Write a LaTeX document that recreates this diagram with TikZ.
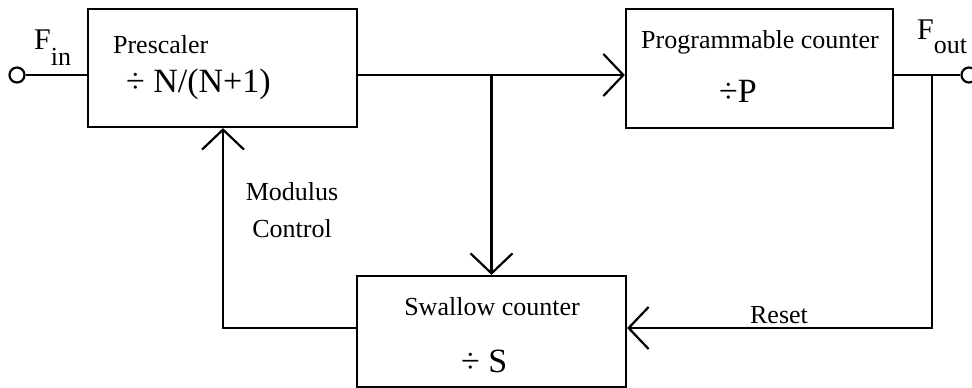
\documentclass[tikz,border=0pt]{standalone}
\usepackage{fontspec}
\setmainfont{Liberation Serif}
\usetikzlibrary{arrows.meta}

\tikzset{
  blk/.style={draw,rectangle,inner sep=0pt},
  term/.style={draw,circle,minimum size=15pt,inner sep=0pt},
  lbl/.style={inner sep=0pt,font=\fontsize{26}{37}\selectfont},
}

\begin{document}
\begin{tikzpicture}[x=1pt,y=-1pt,line width=2.2pt,
    >={Straight Barb[length=20pt,width=42pt]}]
  \useasboundingbox (0,0) rectangle (972,388);
  % blocks
  \node[blk,minimum width=269pt,minimum height=118pt] (pre)  at (222.5,68) {};
  \node[blk,minimum width=267pt,minimum height=119pt] (prog) at (759.5,68.5) {};
  \node[blk,minimum width=269pt,minimum height=111pt] (sw)   at (491.5,331.5) {};
  % block texts
  \node[lbl,anchor=base west] (pretxt) at (112,53) {Prescaler};
  \node[lbl,anchor=base west,font=\fontsize{34}{40}\selectfont] (prediv) at (125,92) {÷ N/(N+1)};
  \node[lbl,anchor=base] (progtxt) at (760,48) {Programmable counter};
  \node[lbl,anchor=base west,font=\fontsize{34}{40}\selectfont] (progdiv) at (718,102) {÷P};
  \node[lbl,anchor=base] (swtxt) at (492,315) {Swallow counter};
  \node[lbl,anchor=base west,font=\fontsize{34}{40}\selectfont] (swdiv) at (460,372) {÷ S};
  % terminals
  \node[term] (fin)  at (17,75) {};
  \node[term] (fout) at (969,75) {};
  \node[lbl,anchor=base west,font=\fontsize{30}{36}\selectfont] (finlbl) at (33,49)
    {F\raisebox{-16pt}{\fontsize{26}{30}\selectfont in}};
  \node[lbl,anchor=base west,font=\fontsize{30}{36}\selectfont] (foutlbl) at (916,39)
    {F\raisebox{-14pt}{\fontsize{26}{30}\selectfont out}};
  % branch points
  \coordinate (split) at (491.5,75);
  \coordinate (tap)   at (932,75);
  \coordinate (mc)    at (223,328);
  % connectors
  \draw (fin.east) -- (fin.east -| pre.west);
  \draw (pre.east |- split) -- (split);
  \draw[->] (split) -- (split -| prog.west);
  \draw[->] (split) -- (sw.north);
  \draw (prog.east |- fout) -- (fout.west);
  \draw[->] (tap) |- (sw.east |- mc);
  \draw[->] (sw.west |- mc) -- (mc) -- (mc |- pre.south);
  % link labels
  \node[lbl,align=center,anchor=base] (modtxt) at (292,237) {Modulus\\Control};
  \node[lbl,anchor=base] (rsttxt) at (779,323) {Reset};
\end{tikzpicture}
\end{document}
